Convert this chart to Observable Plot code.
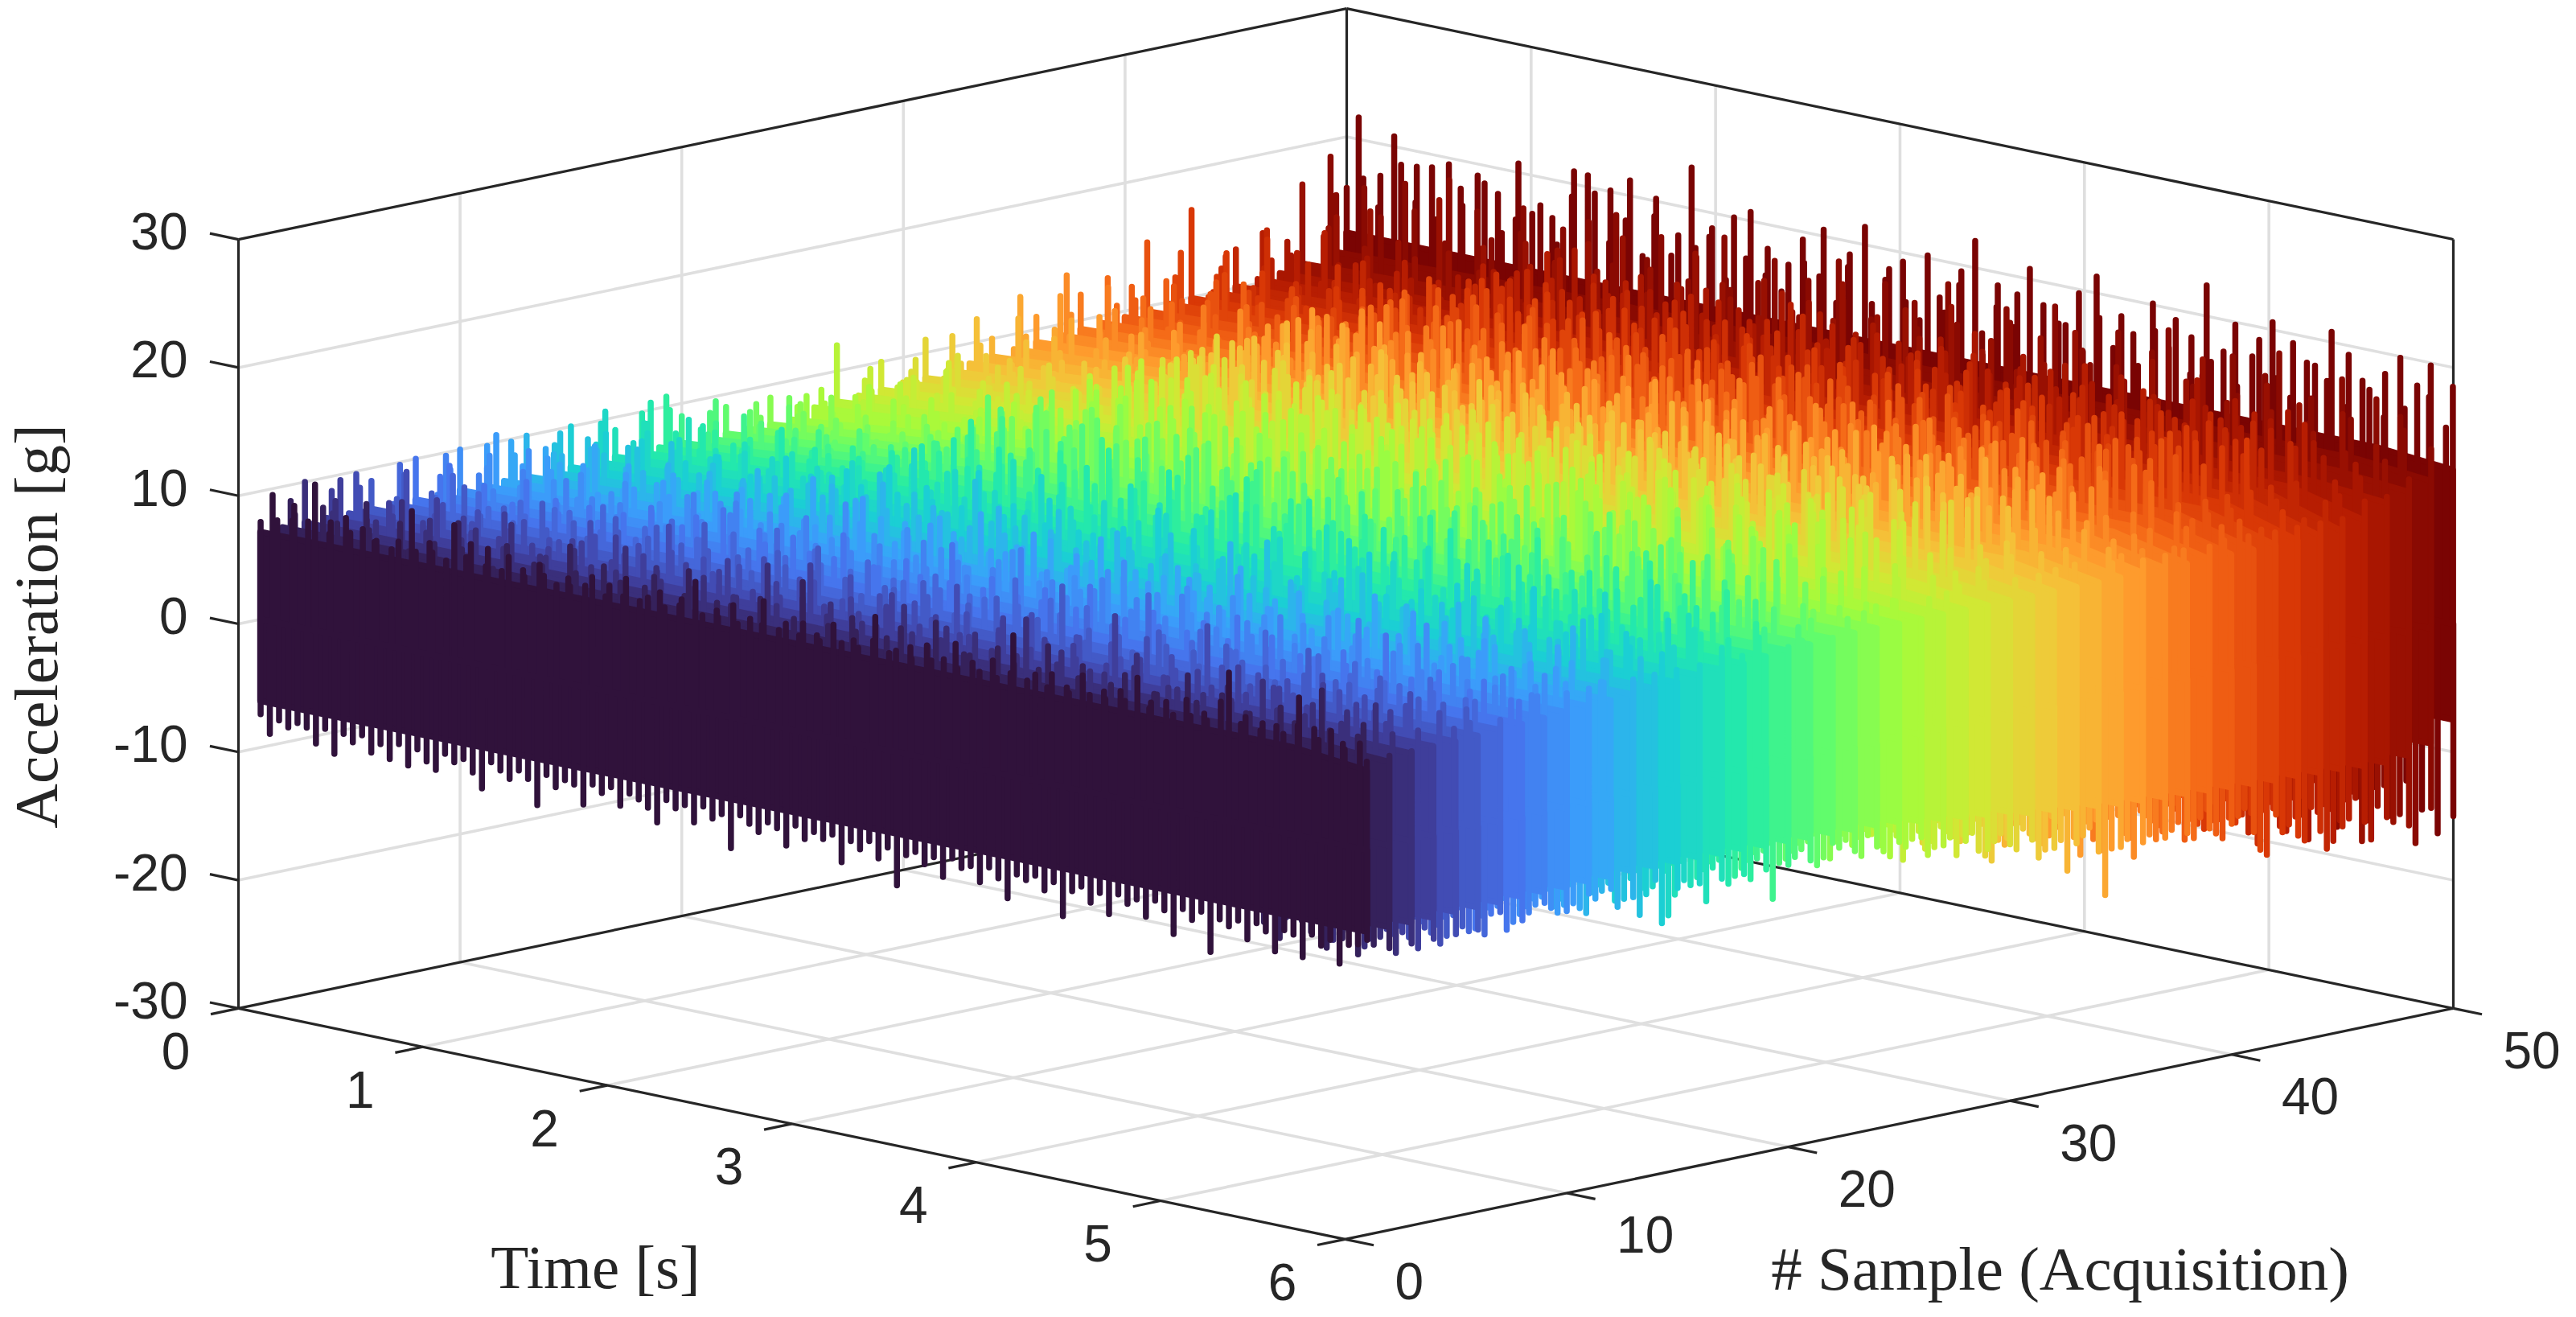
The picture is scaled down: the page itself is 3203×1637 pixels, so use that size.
<!DOCTYPE html>
<html><head><meta charset="utf-8">
<script src="https://cdn.jsdelivr.net/npm/d3@7"></script>
<script src="https://cdn.jsdelivr.net/npm/@observablehq/plot@0.6"></script>
<style>html,body{margin:0;padding:0;background:#fff}svg{display:block}</style>
</head><body><div id="chart"></div>
<script>
const timeTicks=[0,1,2,3,4,5,6];
const sampleTicks=[0,10,20,30,40,50];
const accelTicks=[-30,-20,-10,0,10,20,30];
const turboStops=["#30123b","#4145ab","#4675ed","#39a2fc","#1bcfd4","#24eca6","#61fc6c","#a4fc3b","#d1e834","#f3c63a","#fe9b2d","#f36315","#d93806","#b11901","#7a0403"];
// dense part of each acquisition, g: upper limit at the start, through the record, at the end; lower limit
const bodyStart=[6.8,6.8,6.8,6.8,6.8,6.8,6.8,6.8,6.8,6.8,6.8,6.8,6.8,6.8,6.8,6.9,6.9,6.9,6.9,6.9,6.9,6.9,6.9,6.9,6.9,7.5,7.6,7.7,7.8,8,8,8.2,8.4,8.6,8.8,9,9.2,9.3,9.4,9.5,9.6,9.8,9.9,10,10.1,10.3,10.4,10.8,11.5,12.5];
const bodyHi=[6.8,6.8,6.9,7,7,7.1,7.2,7.3,7.4,7.5,7.6,7.7,7.8,7.9,8,8.2,8.3,8.4,8.6,8.7,8.8,8.9,9,9.1,9.2,9.3,9.4,9.5,9.6,9.7,9.8,9.9,10,10,10.1,10.2,10.2,10.3,10.3,10.4,10.5,10.6,10.7,10.7,10.8,10.9,11,11.5,12,12.5];
const bodyEnd=[6.2,6.5,6.8,7,7,7.1,7.2,7.3,7.4,7.5,7.6,7.7,7.8,7.9,8,8.2,8.3,8.4,8.6,8.7,8.8,8.9,9,9,9,9,9,9,9,9,9,9,9,9,9,9,9,9,9,9,9,9,9,9,9,9.5,10.5,11,11.5,12];
const bodyLo=[-6.4,-6.4,-6.4,-6.4,-6.3,-6.3,-6.3,-6.2,-6.2,-6.2,-6.1,-6.1,-6,-6,-6,-6,-6.1,-6.1,-6.2,-6.2,-6.3,-6.3,-6.4,-6.4,-6.5,-6.8,-7,-7.2,-7.4,-7.5,-8,-8.1,-8.3,-8.5,-8.7,-8.8,-8.9,-9,-9.1,-9.2,-9.3,-9.4,-9.4,-9.5,-9.6,-9.7,-9.8,-9.6,-9,-7.5];
// sideways shift of the peaks, in parts of their spacing
const peakShift=[0,.3,-.2,.42,-.35,.15,-.1,.46,-.4,.25,-.28,.08,.36,-.45,.2,-.05,.4,-.18,.32,-.38,.12];
// upper peaks
const s01=[7.6,9.9,8,8.2,9.4,8.4,11.4,7.8,8.7,9.3,8.2,8.7,7.9,8,7.6,8.3,10.9,7.8,8.7,8,7.6,10.5,8.2,9.3,7.8,9.2,7.7,8.9,8.1,7.6,8.8,8,7.5,8.2,7.6,7.9,8.7,7.4,8.3,7.7,9.1,7.6,8,8.6,7.5,7.9,8.4,10,7.5,8.1,7.6,8.8,7.4,8,7.7,9.6,7.6,8.2,7.5,8.5,7.8,7.4,8.9,7.6,8,7.5,8.3,10.2,7.6,7.9,8.4,7.5,8.8,7.7,8,9.4,7.5,8.2,7.6,8.7,7.4,8,11,7.7,8.3,7.5,8.6,7.8,7.4,9,7.6,8.1,7.5,8.4,7.7,9.7,7.5,8,8.3,7.4,8.8,7.6,8,7.5,9.2,11.6,7.8,8.4,7.6,8.2,8.2,7.7,8.6,10.8,8.6,7.8,8.7,7.9,7.5,8.2,6.9];
const s02=[9,8,9,8,10,8,9,7,8,10,8,7,9,8,8,10,8,9,8,8,9,8,10,8,8,9,8,8,11,8,9,8,8,9,8,10,8,8,9,8,8,10,8,9,8,9,8,8,10,8,9,8,8,9,8,11,8,8,9,7];
const s03=[10,8,9,8,8,10,8,9,8,9,8,10,8,8,9,8,8,10,9,8,8,9,8,8,11,8,9,8,9,8,8,10,8,8,9,9,8,8,11,8,9,8,8,9,10,8,8,8,9,8,10,8,8,9,8,9,10,8,7];
const s04=[9,10,8,9,8,8,10,9,8,8,10,8,8,9,9,8,10,9,8,9,8,9,10,8,9,8,11,8,9,8,9,10,8,9,8,8,9,10,8,9,9,8,8,12,9,8,8,9,8,10,8,9,9,8,10,8,9,8,9,8,7];
const s05=[10,9,8,11,8,9,8,9,8,9,8,8,10,9,8,9,11,9,9,8,9,10,8,9,9,8,10,9,8,9,8,11,9,8,9,10,8,9,9,9,8,10,9,8,12,9,8,9,9,8,10,9,9,8,9,10,9,8];
const s06=[9,8,10,9,8,10,8,9,8,10,8,9,8,10,9,9,10,9,11,9,9,8,10,9,9,11,9,8,9,9,10,9,8,9,10,8,9,9,12,8,9,9,8,10,9,9,8,10,9,9,8,9,11,9,9,9,10,8,9,9,9,8];
const s07=[10,9,8,10,9,8,9,8,9,9,8,10,8,9,10,9,9,10,9,11,9,10,9,9,10,9,9,10,9,9,9,11,9,10,9,10,9,9,12,9,9,10,9,9,11,9,9,10,9,10,9,9,10,9,9,9,8];
const s08=[10,9,10,8,9,8,10,9,8,9,8,9,8,10,9,10,11,9,10,9,10,9,9,11,9,9,10,9,9,12,9,10,9,9,10,9,11,9,9,10,9,9,10,9,11,9,10,9,9,10,9,9,12,9,9,10,9,10,9,9];
const s09=[10,9,9,8,10,9,8,10,9,8,9,9,8,11,9,10,11,9,10,11,9,10,9,10,9,11,9,10,9,10,9,12,10,9,10,11,9,10,9,11,10,9,10,9,11,9,10,9,12,9,10,11,9,10,9,9,10,9,9];
const s10=[10,9,10,8,11,9,8,10,9,10,8,9,10,9,10,11,9,10,9,10,9,12,10,9,11,9,10,9,9,10,11,9,10,10,9,11,12,9,10,11,9,10,11,9,10,9,10,11,9,10,9,10,12,9,10,10,9,10,9,10,9];
const s11=[10,11,9,10,9,10,8,10,9,10,9,8,10,9,10,10,11,9,10,10,12,9,10,11,10,9,10,10,12,9,10,11,9,10,10,9,11,10,9,12,10,10,10,9,11,9,10,10,12,9,10,10,11,9,10,10,9,9];
const s12=[10,9,10,9,9,11,8,10,9,10,9,10,8,10,10,10,12,9,10,11,10,10,9,11,10,12,9,10,10,11,9,10,12,9,10,10,11,9,10,12,10,10,11,9,10,10,12,9,10,9,11,10,12,10,9,10,11,10,9,9];
const s13=[10,9,9,10,10,9,9,10,9,10,8,10,11,9,10,10,11,10,12,10,10,11,9,10,12,10,10,11,10,9,12,10,10,11,10,10,13,9,10,11,10,10,12,9,10,11,10,9,12,10,10,11,10,10,12,10,10,9];
const s14=[9,10,10,9,10,10,9,11,9,10,9,9,10,8,10,11,10,10,12,10,11,10,10,13,10,10,11,10,12,10,10,11,10,10,12,10,10,11,10,13,10,10,11,10,12,10,10,10,11,10,12,10,10,11,10,10,12,10,10,10,9];
const s15=[10,9,10,9,10,9,9,10,10,9,9,11,10,9,11,10,12,10,11,10,10,13,10,11,10,12,10,10,11,10,13,10,12,10,10,11,10,10,12,11,10,13,10,10,11,10,12,10,11,10,13,10,10,12,11,10,10,9];
const s16=[10,11,9,10,9,10,9,9,10,9,10,9,10,9,11,10,11,13,10,12,10,11,10,10,13,11,10,12,10,11,10,12,10,13,10,11,10,12,10,10,13,11,10,12,11,10,10,13,10,11,12,10,10,11,13,10,10,12,10,9];
const s17=[9,10,10,9,11,9,9,10,9,10,9,9,10,9,10,11,10,11,12,10,13,10,11,12,10,11,13,11,12,10,11,14,10,12,11,11,13,10,11,12,10,13,10,11,12,10,13,11,10,12,11,10,14,10,12,11,10];
const s18=[10,11,9,8,10,9,9,8,11,9,10,9,10,9,11,12,10,13,11,11,13,10,12,11,13,10,11,12,10,14,11,11,13,12,10,11,14,10,12,11,13,10,11,12,14,10,11,13,11,12,11,10,13,12,11,13,11,12,10,10,9];
const s19=[11,10,9,9,8,9,10,8,9,9,10,9,9,10,10,11,11,14,11,12,10,13,12,11,14,10,12,11,13,11,11,14,12,11,13,11,12,11,13,10,12,14,11,11,13,12,11,14,10,12,11,13,11,14,11,12,11,13,11,10];
const s20=[9,8,9,10,8,9,9,10,9,8,9,10,10,11,11,12,11,14,11,12,13,11,14,11,13,12,11,14,12,11,13,14,11,12,13,11,14,12,11,13,11,14,12,11,13,12,14,11,11,13,12,14,11,12,14,11,13,12,10,9];
const s21=[9,10,8,9,8,9,9,8,10,9,8,9,10,10,12,12,14,11,13,12,14,11,13,14,12,11,14,13,12,14,11,13,12,14,12,11,14,12,13,11,14,13,12,14,11,13,12,14,11,13,14,12,12,14,11,13,11,10,9];
const s22=[9,9,8,10,8,9,8,9,9,8,9,10,9,11,14,13,12,14,12,13,14,11,13,12,14,12,14,12,13,11,14,13,12,14,12,13,11,15,14,12,13,12,14,11,13,14,12,13,15,12,11,14,13,12,14,13,12,14,11,10,9];
const s23=[9,8,10,9,8,9,9,8,9,10,9,9,10,11,12,14,13,12,14,13,12,14,11,14,13,11,14,13,12,14,13,14,12,14,12,13,14,12,14,13,11,15,13,12,14,13,14,12,13,15,12,14,13,14,12,12,10,9,10];
const s24=[9,8,9,10,8,9,8,9,10,9,9,10,11,10,12,14,12,13,12,14,13,12,15,13,14,12,14,13,13,14,12,14,13,14,12,14,15,12,13,14,13,12,15,14,13,12,14,13,15,12,14,13,14,12,14,13,12,10,10,9];
const s25=[8,9,8,9,8,10,9,8,9,9,10,9,10,12,12,13,14,14,12,14,13,14,14,12,15,13,14,13,14,12,15,14,13,14,12,15,14,13,12,14,14,15,13,12,14,14,13,15,12,14,13,14,15,12,12,10,10,9];
const s26=[9,8,9,10,8,9,10,9,9,10,9,11,10,11,13,14,13,14,15,13,14,14,13,14,13,14,15,13,14,14,13,15,14,15,13,14,14,13,15,14,13,15,14,13,14,14,15,12,15,14,14,13,15,14,13,15,14,12,10,10,9];
const s27=[12,8,9,10,9,8,10,9,9,11,9,10,9,12,13,15,14,13,15,14,13,14,15,13,14,14,15,14,15,13,14,15,14,13,15,14,14,15,13,14,15,14,13,15,14,14,15,14,13,14,15,14,15,13,14,12,11,10,9];
const s28=[9,10,9,10,9,11,9,10,11,9,10,9,10,13,14,14,15,14,13,15,14,15,13,14,14,15,14,13,15,14,14,15,14,15,14,14,15,13,14,15,14,15,14,13,14,15,13,14,15,14,15,13,15,14,14,15,13,14,12,11,10,9];
const s29=[10,9,9,11,9,10,9,10,9,9,11,10,11,12,14,15,14,15,14,13,14,15,14,15,14,13,15,14,14,15,14,15,13,14,14,15,14,13,15,14,15,14,14,15,13,14,15,14,15,13,15,14,14,12,11,10,9];
const s30=[9,10,9,11,9,9,11,10,9,10,9,10,11,12,14,15,14,15,14,13,15,14,15,14,13,15,14,14,15,13,15,14,15,14,14,15,14,15,13,14,15,14,14,15,15,14,13,15,14,14,15,13,15,14,15,14,12,11,10,9];
const s31=[11,9,10,9,10,9,11,10,9,10,9,10,12,13,14,16,14,13,15,14,14,15,13,14,15,14,15,14,13,15,14,14,15,14,15,14,13,15,14,14,15,13,15,14,14,15,13,15,14,14,15,13,14,15,12,11,10,9];
const s32=[11,9,10,10,9,10,9,11,9,10,12,10,11,13,14,15,13,14,15,13,14,15,14,13,15,14,14,15,14,16,13,14,15,14,14,15,13,15,14,15,14,13,15,14,14,15,13,14,15,14,14,15,13,15,14,14,15,12,11,10,9];
const s33=[12,10,9,11,9,10,9,10,11,9,10,10,11,13,14,15,14,15,13,14,15,14,16,14,15,14,13,15,14,15,14,13,15,14,15,14,14,15,13,15,14,14,15,13,14,15,14,14,16,13,15,14,14,15,14,12,11,10,9];
const s34=[10,12,9,11,10,9,10,11,10,9,11,10,12,13,14,13,16,14,15,13,14,15,14,15,14,15,13,14,15,14,14,15,13,15,14,14,16,13,15,14,14,15,13,15,14,15,14,13,15,14,16,14,15,13,14,15,12,11,10,9];
const s35=[13,10,11,12,10,11,10,12,10,11,10,11,12,13,15,14,15,16,14,15,14,15,13,14,15,14,15,14,16,13,15,14,15,14,13,15,16,14,15,14,13,15,14,15,16,13,14,15,14,15,13,16,14,15,14,13,12,11,10];
const s36=[11,13,10,12,10,11,10,12,11,10,12,10,13,14,15,16,14,15,14,16,14,13,15,14,15,14,16,14,15,14,15,13,15,14,16,14,15,14,15,13,14,15,14,15,13,16,14,15,14,15,14,16,13,15,14,15,14,12,11,10,10];
const s37=[14,11,10,12,11,10,12,10,11,14,10,12,11,14,15,14,16,14,15,14,16,15,14,15,14,16,14,15,14,15,13,15,14,16,14,15,14,15,14,16,13,15,14,15,16,14,15,14,16,14,15,13,15,14,12,11,10,10];
const s38=[12,13,10,11,12,10,11,13,10,12,10,12,13,14,14,15,16,14,15,14,16,14,15,14,15,16,14,15,14,16,13,15,14,15,14,16,13,15,14,15,14,16,14,15,14,16,14,15,14,15,16,14,15,13,15,14,12,11,10,10];
const s39=[13,11,12,10,12,11,10,13,11,11,10,13,12,14,15,16,14,16,15,14,15,14,16,14,15,14,15,16,14,15,14,16,14,15,13,16,15,14,15,14,16,14,15,14,15,14,16,14,15,15,14,16,14,15,14,12,11,10];
const s40=[12,11,13,10,12,11,14,11,12,13,10,11,12,14,15,16,14,15,14,16,15,14,16,14,15,14,16,14,15,15,16,14,15,16,15,14,16,14,16,14,15,14,16,14,15,14,15,14,16,14,15,14,15,16,14,15,12,11,11,10];
const s41=[15,12,11,12,13,11,12,11,13,11,12,11,13,14,15,16,14,16,15,14,16,15,14,16,14,15,14,16,15,14,15,14,16,14,15,16,14,15,14,16,15,14,16,14,15,14,16,14,15,16,14,15,14,16,15,12,11,11,10];
const s42=[12,14,11,13,12,11,12,13,11,12,14,11,13,14,16,15,14,16,15,14,16,14,15,16,14,15,14,16,14,15,14,16,15,14,15,14,16,15,14,16,14,15,16,14,15,14,16,15,14,15,16,14,15,14,16,15,14,12,11,10,10];
const s43=[16.8,12,14,11,13,12,11,13,12,11,14,11,13,12,15,16,15,14,16,14,15,14,16,15,14,16,14,15,15,16,14,15,16,14,15,15,14,16,15,14,15,14,16,15,16,14,15,14,16,15,14,16,15,15,16,12,11,10];
const s44=[12,13,11,15,12,11,12,14,12,11,13,12,14,13,15,16,15,14,16,15,14,15,16,14,15,16,15,14,16,15,14,16,15,14,16,15,14,15,16,14,15,16,14,15,16,15,14,16,15,14,15,16,14,15,16,15,14,12,11,10,10];
const s45=[13,12,15,11,13,12,11,14,12,12,13,11,14,12,15,16,14,15,16,14,16,15,14,16,15,14,15,16,14,17,15,14,16,15,14,16,15,14,16,14,15,16,14,15,16,15,14,16,15,14,16,15,16,14,15,12,11,10];
const s46=[14,12,13,11,15,13,12,13,14,12,13,12,15,14,15,17,15,14,16,15,16,14,15,16,14,16,15,14,17,15,14,16,15,16,14,15,16,14,16,15,14,15,16,14,17,15,14,16,15,14,16,15,14,16,15,14,16,12,11,11];
const s47=[13,12,14,12,13,11,13,12,11,13,12,14,12,15,16,17,15,14,16,15,16,14,16,15,14,17,15,16,14,15,16,15,14,16,15,17,14,15,16,14,16,15,14,16,15,14,17,15,16,14,15,16,14,13,13,12,11];
const s48=[17,14,15,13,16,14,13,18,14,13,15,13,16,15,16,17,15,18,14,16,15,18,16,15,14,17,15,16,15,18,14,16,17,15,14,18,15,16,14,17,15,18,14,16,15,17,14,16,18,15,14,17,15,16,14,16,13,14,13,12];
const s49=[18.9,16,17,15,18,16,14,19,17,15,16,18,14,17,18,15,19,16,18,15,17,19,15,16,18,14,17,19,16,15,18,17,15,19,16,14,18,17,15,19,16,15,18,14,17,19,15,16,18,15,17,19,14,16,18,15,17,16,15,14];
const s50=[16,21.7,17,15,17.5,20.8,18.7,16,18.8,19,15,19.5,17.8,16.5,19.1,18.6,18,15,16.3,20.7,17,17.8,17,15,19,21,20.9,19.6,16,20.1,18,21.2,15.5,18.8,20.2,16,17.7,23.2,17,18.1,18.8,15,20,17,20.7,16,18.1,15,17.2,19.4,17.6,16.8,20.5,15,18,19,21.4,15.5,17.6,18.5,19.3,16.2,15,20.2,17.1,16,18.4,19.5,22.1,15,17.3,19,16,18.6,20.8,15.5,18.2,17,17,19.7,15.2,21.3,18.1,16,18.6,17.4,15,20.1,18,16.9,19.2,15.2,18.1,22.4,16.5,17.5,19.8,15,17.6,19,20.6,16.3,15,19.3,18,17.9,16.9,20.8,15.2,19.3,17.5,16.9,15,18.4,19.9,16,18,17.3,19.8,15.2,18.5];
// lower peaks: the first series along the whole record, the others towards its end
const b01=[-7.4,-8.8,-7.6,-8,-7.5,-7.7,-8.8,-7.5,-9.3,-7.6,-8.1,-7.4,-8.6,-7.8,-8.8,-7.5,-9,-7.6,-8.4,-8.9,-7.5,-8,-7.6,-8.5,-9.6,-7.4,-7.9,-8.4,-7.6,-8.1,-10,-7.5,-8.3,-7.6,-7.8,-9.2,-7.5,-8,-7.4,-8.7,-7.6,-7.9,-8.4,-9.4,-7.5,-8,-7.6,-8.8,-7.4,-8.2,-7.7,-10.2,-7.5,-8,-8.5,-7.6,-7.9,-9.1,-7.4,-8.3,-7.6,-8,-7.5,-9.5,-7.7,-8.2,-7.4,-8.6,-7.6,-10.4,-7.9,-7.5,-8.3,-7.6,-9,-7.4,-8,-7.7,-8.8,-7.5,-8.2,-9.6,-7.6,-7.9,-7.4,-8.4,-7.6,-10.1,-8,-7.5,-8.6,-7.7,-9.2,-7.5,-8.1,-7.6,-8.8,-7.4,-8,-9.7,-7.6,-8.3,-7.5,-10.5,-7.8,-8.2,-7.6,-8.9,-7.5,-8,-9.4,-7.6,-7.8,-9.4,-7.5,-8.2,-7.6,-9.3,-7.7,-7.5,-7];
const b02=[-8,-9,-7,-8,-9,-8,-9,-8,-8];
const b03=[-8,-8,-7,-9,-8,-9,-8,-9,-8];
const b04=[-8,-7,-9,-8,-9,-8,-8,-9,-8];
const b05=[-8,-8,-9,-7,-9,-9,-8,-9,-8];
const b06=[-8,-9,-8,-9,-8,-9,-9,-8,-8];
const b07=[-8,-8,-8,-9,-9,-8,-9,-9,-7];
const b08=[-8,-9,-8,-9,-8,-9.4,-8,-9,-8];
const b09=[-8,-8,-9,-8,-9,-8,-9,-8,-7];
const b10=[-8,-9,-8,-9,-8,-9,-8,-8,-8];
const b11=[-8,-8,-9,-8,-9,-8,-9,-8,-7];
const b12=[-8,-9,-8,-9,-8,-9,-9,-8,-7];
const b13=[-8,-8,-9,-10,-8,-10,-8,-9,-8];
const b14=[-8,-9,-10,-8,-9,-8,-9,-10,-7];
const b15=[-8,-9,-8,-9,-10,-8,-9,-11,-8];
const b16=[-8,-8,-9,-8,-8,-9,-11,-8,-8];
const b17=[-8,-9,-8,-10,-8,-10,-9,-10,-8];
const b18=[-8,-9,-8,-9,-8,-9,-8,-9,-8];
const b19=[-8,-8,-9,-8,-9,-8,-9,-9,-8];
const b20=[-8,-9,-8,-9,-8,-9,-8,-10.9,-8];
const b21=[-8,-8,-9,-8,-9,-8,-8.7,-8,-8];
const b22=[-8,-9,-8,-9,-8,-9,-8,-9,-7];
const b23=[-8,-8,-9,-8,-9,-8,-9,-8,-8];
const b24=[-8,-9,-8,-9,-8,-9.7,-8,-9,-8];
const b25=[-9,-8,-9,-8,-9,-9,-8,-9,-8];
const b26=[-9,-9,-8,-9,-9,-8,-10,-9,-8];
const b27=[-9,-10,-9,-9,-10,-9,-9,-10,-9];
const b28=[-9,-9,-10,-9,-11.5,-9,-10,-9,-9];
const b29=[-10,-9,-10,-9,-11,-9,-11,-9,-10];
const b30=[-10,-11,-9,-11,-10,-10,-11,-10,-10];
const b31=[-10,-12,-10,-11,-9,-12,-10,-11,-10];
const b32=[-11,-10,-12,-10,-13,-11,-10,-12,-11];
const b33=[-10,-12,-11,-12,-10,-11,-12,-11,-11];
const b34=[-11,-10,-13,-11,-12,-10,-14,-11,-12];
const b35=[-11,-12,-10,-13,-11,-12,-11,-16,-12];
const b36=[-12,-11,-13,-11,-14,-11,-13,-12,-12];
const b37=[-11,-13,-11,-12,-14,-11,-14,-12,-12];
const b38=[-12,-11,-14,-12,-13,-11,-13,-12,-12];
const b39=[-13,-12,-11,-14,-12,-13,-12,-13,-12];
const b40=[-12,-13,-12,-13,-11,-14,-12,-13,-12];
const b41=[-13,-12,-14,-12,-13,-12,-14,-12,-13];
const b42=[-12,-13,-12,-14,-12,-13,-12,-15,-12];
const b43=[-14,-13,-15,-14,-14,-13,-16,-14,-14];
const b44=[-13,-15,-13,-14,-16,-13,-14,-15,-14];
const b45=[-14,-13,-16,-14,-15,-14,-13,-16,-14];
const b46=[-13,-15,-14,-16,-13,-14,-16,-14,-14];
const b47=[-15,-13,-14,-17,-14,-15,-13,-16,-14];
const b48=[-14,-16,-13,-15,-14,-17,-14,-15,-15];
const b49=[-15,-14,-17,-14,-16,-13,-15,-17,-14];
const b50=[-14,-13,-15,-13,-14,-16,-13,-15,-14,-16,-13,-15,-16.6,-15];
const tops=[s01,s02,s03,s04,s05,s06,s07,s08,s09,s10,s11,s12,s13,s14,s15,s16,s17,s18,s19,s20,s21,s22,s23,s24,s25,s26,s27,s28,s29,s30,s31,s32,s33,s34,s35,s36,s37,s38,s39,s40,s41,s42,s43,s44,s45,s46,s47,s48,s49,s50];
const bots=[b01,b02,b03,b04,b05,b06,b07,b08,b09,b10,b11,b12,b13,b14,b15,b16,b17,b18,b19,b20,b21,b22,b23,b24,b25,b26,b27,b28,b29,b30,b31,b32,b33,b34,b35,b36,b37,b38,b39,b40,b41,b42,b43,b44,b45,b46,b47,b48,b49,b50];

const W=3203,H=1637,INK="#262626",GRID="#dfdfdf",SANS="Liberation Sans",SERIF="Liberation Serif";
// fixed 3-D view of the axes box
const px=(t,s)=>296+229.33*t+27.56*s;
const py=(t,s,z)=>775+47.83*t-5.74*s-15.93*z;
const seg=(a,b)=>({a,b});
const linkOpts=(stroke,strokeWidth)=>({x1:d=>px(d.a[0],d.a[1]),y1:d=>py(...d.a),x2:d=>px(d.b[0],d.b[1]),y2:d=>py(...d.b),stroke,strokeWidth});
const grid=[
  ...timeTicks.slice(1,-1).flatMap(t=>[seg([t,0,-30],[t,50,-30]),seg([t,50,-30],[t,50,30])]),
  ...sampleTicks.slice(1,-1).flatMap(s=>[seg([0,s,-30],[6,s,-30]),seg([0,s,-30],[0,s,30])]),
  ...accelTicks.slice(1,-1).flatMap(z=>[seg([0,0,z],[0,50,z]),seg([0,50,z],[6,50,z])])
];
const box=[seg([0,0,-30],[6,0,-30]),seg([6,0,-30],[6,50,-30]),seg([0,0,-30],[0,50,-30]),seg([0,50,-30],[6,50,-30]),
  seg([0,0,30],[0,50,30]),seg([0,50,30],[6,50,30]),seg([0,0,-30],[0,0,30]),seg([0,50,-30],[0,50,30]),seg([6,50,-30],[6,50,30])];
const tickLen=0.155;
const ticks=[
  ...accelTicks.map(z=>seg([0,0,z],[-tickLen,0,z])),
  ...timeTicks.map(t=>seg([t,0,-30],[t,-1.25,-30])),
  ...sampleTicks.map(s=>seg([6,s,-30],[6+tickLen,s,-30]))
];
const colorAt=d3.scaleLinear().domain(turboStops.map((c,i)=>i/(turboStops.length-1))).range(turboStops);

const marks=[Plot.link(grid,linkOpts(GRID,3.6)),Plot.link(box,linkOpts(INK,3.2)),Plot.link(ticks,linkOpts(INK,3.2))];
const bodyRows=[0,1.5,5.6,6];
for(let i=tops.length-1;i>=0;i--){
  const s=i+1,c=colorAt(i/49),pts=[];
  const dt=6/(tops[i].length-1);
  tops[i].forEach((v,k)=>{
    const t=Math.min(6,Math.max(0,k*dt+peakShift[(k+i*3)%peakShift.length]*dt));
    pts.push({t,z:0},{t,z:v},{t,z:0});
  });
  const step=i===0?6/(bots[i].length-1):0.085;
  bots[i].forEach((v,k,a)=>{const t=6-(a.length-1-k)*step;pts.push({t,z:0},{t,z:v},{t,z:0});});
  const hi=t=>t===0?bodyStart[i]:t===6?bodyEnd[i]:bodyHi[i];
  marks.push(Plot.area(bodyRows,{x1:t=>px(t,s),y1:t=>py(t,s,hi(t)),y2:t=>py(t,s,bodyLo[i]),fill:c,stroke:c,strokeWidth:7.5,strokeLinejoin:"round"}));
  marks.push(Plot.line(pts,{x:d=>px(d.t,s),y:d=>py(d.t,s,d.z),stroke:c,strokeWidth:7.5,strokeLinecap:"round",strokeLinejoin:"round"}));
}
const label=(data,x,y,anchor)=>Plot.text(data,{x,y,text:d=>String(d),textAnchor:anchor,fontFamily:SANS,fontSize:64,fill:INK});
marks.push(label(accelTicks,()=>233,z=>py(0,0,z)-8,"end"));
marks.push(label(timeTicks,t=>px(t,0)-78,t=>py(t,0,-30)+55,"middle"));
marks.push(label(sampleTicks,s=>px(6,s)+62,s=>py(6,s,-30)+54,"start"));
const title=(text,x,y,rotate=0)=>Plot.text([text],{x:()=>x,y:()=>y,text:d=>d,rotate,fontFamily:SERIF,fontSize:77,fill:INK,textAnchor:"middle"});
marks.push(title("Time [s]",740,1576));
marks.push(title("# Sample (Acquisition)",2561,1578));
marks.push(title("Acceleration [g]",46,778,-90));

document.getElementById("chart").append(Plot.plot({
  width:W,height:H,margin:0,
  x:{domain:[0,W],range:[0,W],axis:null},
  y:{domain:[0,H],range:[0,H],axis:null},
  style:{background:"#fff"},
  marks
}));
</script></body></html>
